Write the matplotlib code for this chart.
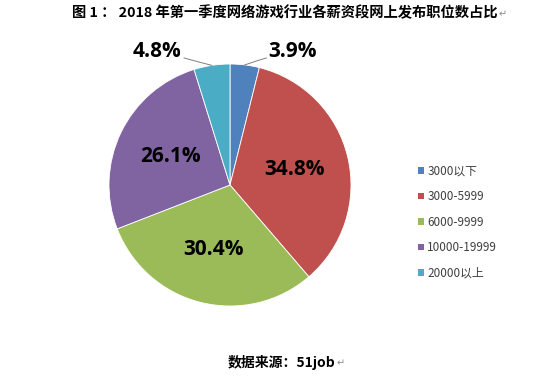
import numpy as np
import matplotlib
matplotlib.use('Agg')
import matplotlib.pyplot as plt
from matplotlib.patches import Patch

plt.rcParams['font.family'] = ['Noto Sans CJK SC', 'DejaVu Sans']

# 薪资段及占比
labels = ['3000以下', '3000-5999', '6000-9999', '10000-19999', '20000以上']
shares = [3.9, 34.8, 30.4, 26.1, 4.8]
colors = ['#4F81BD', '#C0504D', '#9BBB59', '#8064A2', '#4BACC6']

W, H = 555, 383
fig = plt.figure(figsize=(W / 100, H / 100), dpi=100)
fig.patch.set_facecolor('white')

cx, cy, r = 230, 185, 121
ax = fig.add_axes([(cx - r) / W, (H - cy - r) / H, 2 * r / W, 2 * r / H])
wedges, _ = ax.pie(shares, colors=colors, startangle=90, counterclock=False,
                   radius=1, wedgeprops=dict(edgecolor='white', linewidth=0.6))
ax.set_xlim(-1, 1)
ax.set_ylim(-1, 1)
ax.set_aspect('equal')
ax.axis('off')

pct_font = dict(fontsize=15, fontweight='bold', family='Open Sans', color='black')

# 标签：大块放内部，小块放外部并加引线
outside = {0: (0.52, 1.10), 4: (-0.6, 1.10)}
for i, w in enumerate(wedges):
    ang = np.deg2rad((w.theta1 + w.theta2) / 2)
    txt = '%.1f%%' % shares[i]
    if i in outside:
        tx, ty = outside[i]
        px, py = np.cos(ang), np.sin(ang)
        kx = tx - 0.22 if tx > 0 else tx + 0.22
        ax.plot([px, kx * 0.5 + px * 0.5, kx], [py, py + 0.03, ty - 0.05],
                color='#7f7f7f', lw=0.7, clip_on=False)
        ax.text(tx, ty, txt, ha='center', va='center', clip_on=False, **pct_font)
    else:
        ax.text(0.55 * np.cos(ang), 0.55 * np.sin(ang), txt, ha='center',
                va='center', **pct_font)

handles = [Patch(facecolor=c, edgecolor='none') for c in colors]
leg = fig.legend(handles, labels, loc='upper left',
                 bbox_to_anchor=(413 / W, 1 - 160 / H), frameon=False,
                 fontsize=8.5, handlelength=0.5, handleheight=0.5,
                 handletextpad=0.3, labelspacing=1.06, borderaxespad=0)
for t in leg.get_texts():
    t.set_color('#404040')

title = fig.text(72 / W, 1 - 13 / H,
                 '图 1 ： 2018 年第一季度网络游戏行业各薪资段网上发布职位数占比',
                 ha='left', va='center', fontsize=10.3, fontweight='bold')
src = fig.text(228 / W, 1 - 362 / H, '数据来源：51job', ha='left', va='center',
               fontsize=10, fontweight='bold')

# 段落标记
fig.canvas.draw()
rend = fig.canvas.get_renderer()
for t in (title, src):
    bb = t.get_window_extent(rend)
    fig.text(bb.x1 / W + 1 / W, t.get_position()[1] - 1 / H, '↵', ha='left',
             va='center', fontsize=7, color='#8c8c8c')

fig.savefig('out.png', dpi=100)
